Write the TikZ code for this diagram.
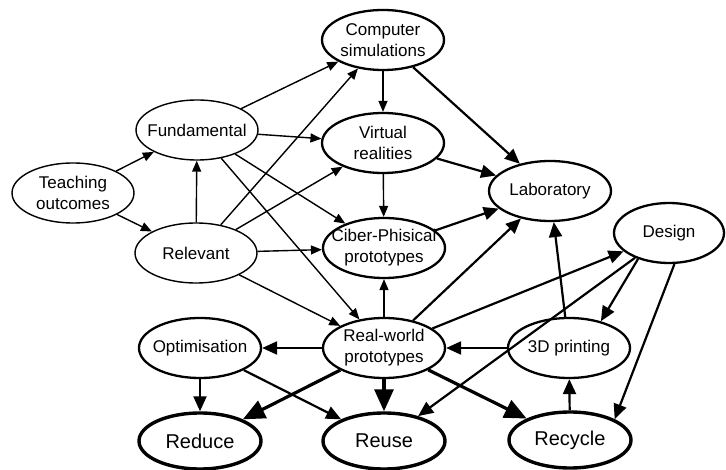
\documentclass[tikz,border=0pt]{standalone}
\usepackage{fontspec}
\setmainfont{Liberation Sans}
\usetikzlibrary{arrows.meta,shapes.geometric}
\newcommand{\fs}{\fontsize{17}{21}\selectfont}
\newcommand{\fb}{\fontsize{20}{24}\selectfont}

\begin{document}
\begin{tikzpicture}[x=1pt,y=-1pt,
   ell/.style={ellipse,draw,align=center,font=\fs,minimum width=122pt,minimum height=60pt,
      inner xsep=-14pt,inner ysep=0pt,line width=1.4pt},
   ellm/.style={ell,line width=2.3pt},
   ellb/.style={ell,font=\fb,minimum height=56pt,line width=3.4pt},
   arr/.style={-{Triangle[length=11pt,width=9pt]},line width=1.4pt},
   arrm/.style={-{Triangle[length=15pt,width=13pt]},line width=2.2pt},
   arrb/.style={-{Triangle[length=22pt,width=19pt]},line width=3.2pt}]
   \useasboundingbox (0,0) rectangle (726,470);
   % nodes
   \node[ell] (teach) at (73,193) {Teaching\\outcomes};
   \node[ell] (fund) at (197,130) {Fundamental};
   \node[ell] (rel) at (196,253) {Relevant};
   \node[ellm] (comp) at (383,40) {Computer\\simulations};
   \node[ellm] (virt) at (383,143) {Virtual\\realities};
   \node[ellm] (lab) at (550,191) {Laboratory};
   \node[ellm] (ciber) at (384,248) {Ciber-Phisical\\prototypes};
   \node[ellm,minimum width=110pt] (design) at (669,233) {Design};
   \node[ellm] (real) at (384,348) {Real-world\\prototypes};
   \node[ellm] (optim) at (200,348) {Optimisation};
   \node[ellm] (print) at (569,348) {3D printing};
   \node[ellb] (reduce) at (200,441) {Reduce};
   \node[ellb] (reuse) at (384,441) {Reuse};
   \node[ellb] (recycle) at (570,440) {Recycle};
   % thin links
   \draw[arr] (teach) -- (fund);
   \draw[arr] (teach) -- (rel);
   \draw[arr] (rel) -- (fund);
   \draw[arr] (fund) -- (comp);
   \draw[arr] (fund) -- (virt);
   \draw[arr] (fund) -- (ciber);
   \draw[arr] (fund) -- (real);
   \draw[arr] (rel) -- (comp);
   \draw[arr] (rel) -- (virt);
   \draw[arr] (rel) -- (ciber);
   \draw[arr] (rel) -- (real);
   \draw[arr] (comp) -- (virt);
   \draw[arr] (virt) -- (ciber);
   \draw[arr] (real) -- (ciber);
   % medium links
   \draw[arrm] (comp) -- (lab);
   \draw[arrm] (virt) -- (lab);
   \draw[arrm] (ciber) -- (lab);
   \draw[arrm] (real) -- (lab);
   \draw[arrm] (real) -- (design);
   \draw[arrm] (design) -- (reuse);
   \draw[arrm] (design.-140) -- (print.40);
   \draw[arrm] (design.-80) -- (recycle.25);
   \draw[arrm] (print) -- (lab);
   \draw[arrm] (print) -- (real);
   \draw[arrm] (real) -- (optim);
   \draw[arrm] (optim) -- (reduce);
   \draw[arrm] (optim) -- (reuse);
   \draw[arrm] (recycle) -- (print);
   % thick links
   \draw[arrb] (real) -- (reduce);
   \draw[arrb] (real) -- (reuse);
   \draw[arrb] (real) -- (recycle);
\end{tikzpicture}
\end{document}
